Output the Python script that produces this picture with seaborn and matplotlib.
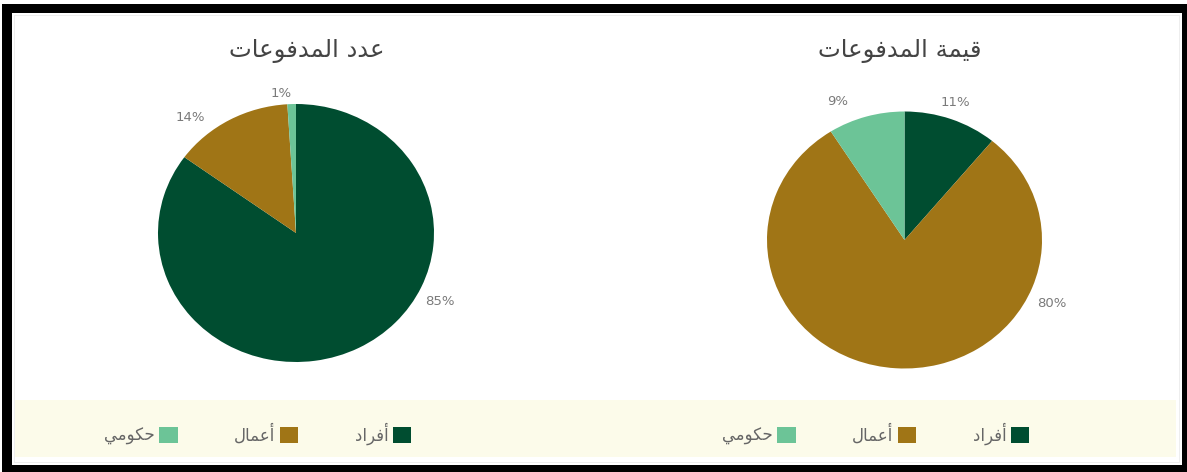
import numpy as np
import matplotlib
matplotlib.use("Agg")
import matplotlib.pyplot as plt
from matplotlib.patches import Rectangle, Patch
import seaborn as sns

# ---------------- data ----------------
categories = ["أفراد", "أعمال", "حكومي"]
count_values = [85, 14, 1]          # عدد المدفوعات
value_values = [11, 80, 9]          # قيمة المدفوعات
titles = ["عدد المدفوعات", "قيمة المدفوعات"]
colors = ["#004d30", "#a07516", "#6cc497"]

# label placement (angle deg ccw from +x, radius in pie units)
label_pos_count = [(-27.2, 1.17), (130.5, 1.18), (95.7, 1.09)]
label_pos_value = [(71.1, 1.135), (-24.9, 1.18), (114.4, 1.18)]

# -------- minimal Arabic shaping (presentation forms, visual order) --------
FORMS = {
    '\u0627': ('\uFE8D', '\uFE8E', None, None),
    '\u0623': ('\uFE83', '\uFE84', None, None),
    '\u062A': ('\uFE95', '\uFE96', '\uFE97', '\uFE98'),
    '\u0629': ('\uFE93', '\uFE94', None, None),
    '\u062D': ('\uFEA1', '\uFEA2', '\uFEA3', '\uFEA4'),
    '\u062F': ('\uFEA9', '\uFEAA', None, None),
    '\u0631': ('\uFEAD', '\uFEAE', None, None),
    '\u0639': ('\uFEC9', '\uFECA', '\uFECB', '\uFECC'),
    '\u0641': ('\uFED1', '\uFED2', '\uFED3', '\uFED4'),
    '\u0642': ('\uFED5', '\uFED6', '\uFED7', '\uFED8'),
    '\u0643': ('\uFED9', '\uFEDA', '\uFEDB', '\uFEDC'),
    '\u0644': ('\uFEDD', '\uFEDE', '\uFEDF', '\uFEE0'),
    '\u0645': ('\uFEE1', '\uFEE2', '\uFEE3', '\uFEE4'),
    '\u0648': ('\uFEED', '\uFEEE', None, None),
    '\u064A': ('\uFEF1', '\uFEF2', '\uFEF3', '\uFEF4'),
}


def shape(s):
    out = []
    for i, c in enumerate(s):
        if c not in FORMS:
            out.append(c)
            continue
        prev = s[i - 1] if i > 0 else ''
        nxt = s[i + 1] if i + 1 < len(s) else ''
        f = FORMS[c]
        jp = prev in FORMS and FORMS[prev][2] is not None
        jn = nxt in FORMS and f[2] is not None
        if jp and jn:
            g = f[3]
        elif jp:
            g = f[1]
        elif jn:
            g = f[2]
        else:
            g = f[0]
        out.append(g)
    return ''.join(reversed(out))


sns.set_theme(style="white")
plt.rcParams['font.family'] = ['DejaVu Sans']

W, H = 1187, 472
fig = plt.figure(figsize=(W / 100, H / 100), dpi=100)
fig.patch.set_facecolor("white")


def px_rect(x0, y0, x1, y1, color, z):
    fig.patches.append(Rectangle((x0 / W, 1 - y1 / H), (x1 - x0) / W, (y1 - y0) / H,
                                 transform=fig.transFigure, facecolor=color,
                                 edgecolor="none", zorder=z))


# frame
px_rect(2, 4, W, H, "black", -5)
px_rect(12, 13, 1182, 465, "white", -4)
px_rect(14, 15, 1180, 463, "#eeeeee", -3)
px_rect(15, 16, 1179, 462, "white", -2)
# legend band
px_rect(15, 400, 1176, 457, "#fcfbea", -1)


def make_pie(cx, cy, rx, ry, values, title, title_x, label_pos, legend_right):
    lim = 1.6
    axw, axh = 2 * lim * rx, 2 * lim * ry
    ax = fig.add_axes([(cx - axw / 2) / W, 1 - (cy + axh / 2) / H, axw / W, axh / H])
    ax.set_zorder(5)
    ax.patch.set_alpha(0)
    wedges, _ = ax.pie(values, colors=colors, startangle=90, counterclock=False,
                       wedgeprops=dict(linewidth=0))
    ax.set_aspect('auto')
    ax.set_xlim(-lim, lim)
    ax.set_ylim(-lim, lim)
    ax.axis('off')
    for v, (ang, r) in zip(values, label_pos):
        a = np.deg2rad(ang)
        ax.text(r * np.cos(a), r * np.sin(a), f"{v}%", ha="center", va="center",
                fontsize=9.5, color="#7a7a7a")
    fig.text(title_x / W, 1 - 51 / H, shape(title), ha="center", va="center",
             fontsize=17.5, color="#444444", zorder=6)
    handles = [Patch(facecolor=c, edgecolor="none") for c in colors][::-1]
    labels = [shape(t) for t in categories][::-1]
    leg = fig.legend(handles, labels, loc="center right",
                     bbox_to_anchor=(legend_right / W, 1 - 434 / H),
                     bbox_transform=fig.transFigure, ncol=3, markerfirst=False,
                     frameon=False, fontsize=12, labelcolor="#666666",
                     handlelength=1.1, handleheight=1.1, handletextpad=0.25,
                     columnspacing=3.4, borderaxespad=0, borderpad=0)
    leg.set_zorder(6)


make_pie(296, 233, 138, 129, count_values, titles[0], 307, label_pos_count, 411)
make_pie(904.5, 240, 137.5, 128.5, value_values, titles[1], 900, label_pos_value, 1029)

fig.savefig("out.png", dpi=100)
